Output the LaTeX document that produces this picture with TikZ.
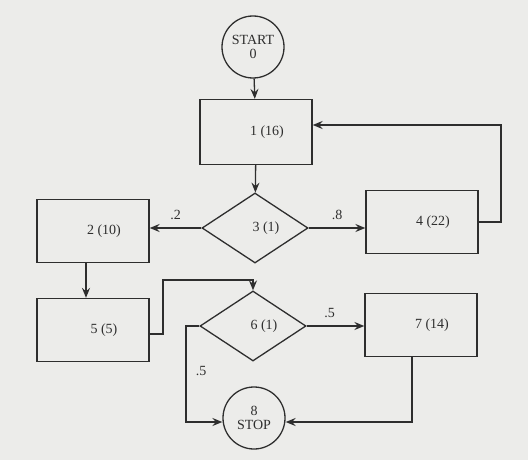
\documentclass[tikz,border=0pt]{standalone}
\usepackage{fontspec}
\setmainfont{Liberation Serif}
\usetikzlibrary{arrows.meta,positioning,shapes.geometric}
\definecolor{PaperGray}{HTML}{ECECEA}
\definecolor{InkGray}{HTML}{2E2E2E}
\begin{document}
\begin{tikzpicture}[x=1pt,y=-1pt, every node/.style={font=\fontsize{14}{15}\selectfont,text=InkGray},
box/.style={draw=InkGray,line width=1.3pt,rectangle,minimum width=112pt,minimum height=63pt,inner sep=0pt,execute at begin node={\hspace*{22pt}}},
dia/.style={draw=InkGray,line width=1.3pt,diamond,minimum width=106pt,minimum height=70pt,inner sep=0pt,execute at begin node={\hspace*{22pt}}},
circ/.style={draw=InkGray,line width=1.3pt,circle,minimum size=62pt,inner sep=0pt,align=center,font=\fontsize{14}{14}\selectfont},
prob/.style={font=\fontsize{14}{15}\selectfont},
arr/.style={-{Stealth[length=10pt,width=8pt,inset=3.5pt]},line width=1.3pt,InkGray}]
\fill[PaperGray] (0,0) rectangle (528,460);
\useasboundingbox (0,0) rectangle (528,460);
\node[circ] (start) at (253,47) {START\\0};
\node[box,minimum height=65pt] (one) at (256,132) {1 (16)};
\node[dia] (three) at (255,228) {3 (1)};
\node[box] (two) at (93,231) {2 (10)};
\node[box] (four) at (422,222) {4 (22)};
\node[box] (five) at (93,330) {5 (5)};
\node[dia] (six) at (253,326) {6 (1)};
\node[box] (seven) at (421,325) {7 (14)};
\node[circ] (stop) at (254,418) {8\\STOP};
\coordinate (back) at (501,125);
\coordinate (join) at (163,280);
\coordinate (down) at (186,422);
\draw[arr] (start)--(one);
\draw[arr] (one)--(three);
\draw[arr] (three.west)--(two.east |- three.west) node[prob,pos=0.5,above=4pt] {.2};
\draw[arr] (three.east)--(four.west |- three.east) node[prob,pos=0.5,above=4pt] {.8};
\draw[arr] (four.east) -| (back) -- (one.east |- back);
\draw[arr] ([xshift=-7pt]two.south)--([xshift=-7pt]five.north);
\draw[arr] ([yshift=-4pt]five.east) -| (join) -| (six.north);
\draw[arr] (six.east)--(seven.west |- six.east) node[prob,pos=0.4,above=4pt] {.5};
\draw[arr] (six.west) -| (down) -- (stop.west |- down);
\node[prob] (lowprob) at (201,371) {.5};
\draw[arr] ([xshift=-9pt]seven.south) |- (stop.east |- down);
\end{tikzpicture}
\end{document}
